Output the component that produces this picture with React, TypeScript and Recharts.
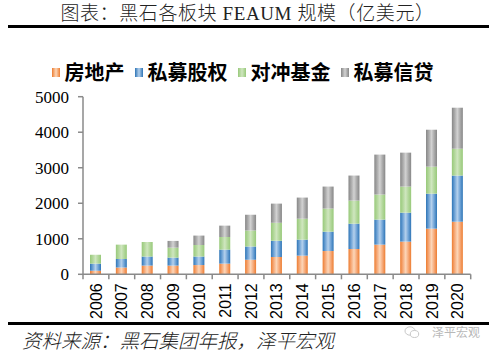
import { BarChart, Bar, XAxis, YAxis } from 'recharts';

const years = ['2006', '2007', '2008', '2009', '2010', '2011', '2012', '2013', '2014', '2015', '2016', '2017', '2018', '2019', '2020'];
const realEstate = [100, 190, 245, 245, 260, 300, 412, 487, 525, 655, 712, 835, 920, 1285, 1480];
const privateEquity = [200, 240, 255, 225, 240, 395, 368, 458, 450, 545, 713, 705, 815, 985, 1300];
const hedgeFunds = [250, 405, 410, 280, 325, 355, 450, 505, 590, 650, 650, 705, 735, 760, 755];
const privateCredit = [0, 0, 0, 190, 265, 320, 450, 540, 595, 620, 705, 1125, 955, 1040, 1155];
const yTicks = [0, 1000, 2000, 3000, 4000, 5000];

const SERIES = [
  { key: 're', name: '房地产', dark: '#ED7D31', mid: '#F6A978', light: '#FCD6B8' },
  { key: 'pe', name: '私募股权', dark: '#2E75B6', mid: '#6FA3D6', light: '#B4D0EC' },
  { key: 'hf', name: '对冲基金', dark: '#98C97A', mid: '#B2D79A', light: '#CFE6BF' },
  { key: 'pc', name: '私募信贷', dark: '#878787', mid: '#AAAAAA', light: '#D2D2D2' },
];

const data = years.map((year, i) => ({
  year,
  re: realEstate[i],
  pe: privateEquity[i],
  hf: hedgeFunds[i],
  pc: privateCredit[i],
}));

const AXIS = '#8A8A8A';
const BAND = 388 / years.length;

function YearTick({ x, y, payload, index }: any) {
  const last = index === years.length - 1;
  return (
    <g>
      <line x1={x - BAND / 2} x2={x - BAND / 2} y1={y} y2={y + 5} stroke={AXIS} strokeWidth={1.5} />
      {last && <line x1={x + BAND / 2} x2={x + BAND / 2} y1={y} y2={y + 5} stroke={AXIS} strokeWidth={1.5} />}
      <text
        x={x}
        y={y + 9}
        dy="0.35em"
        transform={`rotate(-90 ${x} ${y + 9})`}
        textAnchor="end"
        fontSize={16}
        fontFamily="'Liberation Sans', Arial, sans-serif"
        fill="#000"
      >
        {payload.value}
      </text>
    </g>
  );
}

function LegendRow() {
  return (
    <div style={{ display: 'flex', justifyContent: 'center', alignItems: 'center', fontFamily: "'Noto Sans CJK SC'", fontWeight: 700, fontSize: 20, color: '#000' }}>
      {SERIES.map((s) => (
        <div key={s.key} style={{ display: 'flex', alignItems: 'center', marginRight: 10 }}>
          <span
            style={{
              width: 8,
              height: 9,
              marginRight: 5,
              background: `linear-gradient(to right, ${s.dark}, ${s.light}, ${s.dark})`,
            }}
          />
          <span style={{ lineHeight: '24px' }}>{s.name}</span>
        </div>
      ))}
    </div>
  );
}

export default function App() {
  return (
    <div style={{ position: 'absolute', left: 0, top: 0, width: 495, height: 356, background: '#fff', overflow: 'hidden' }}>
      <svg width={0} height={0} style={{ position: 'absolute' }}>
        <defs>
          {SERIES.map((s) => (
            <linearGradient key={s.key} id={`grad-${s.key}`} x1="0" y1="0" x2="1" y2="0">
              <stop offset="0%" stopColor={s.dark} />
              <stop offset="25%" stopColor={s.mid} />
              <stop offset="50%" stopColor={s.light} />
              <stop offset="75%" stopColor={s.mid} />
              <stop offset="100%" stopColor={s.dark} />
            </linearGradient>
          ))}
        </defs>
      </svg>

      <div
        style={{
          position: 'absolute',
          top: 2,
          left: 0,
          width: 495,
          textAlign: 'center',
          fontSize: 19,
          lineHeight: '24px',
          letterSpacing: 0.6,
          color: '#222',
          fontFamily: "'Liberation Serif', 'Noto Sans CJK SC'",
          fontWeight: 300,
          whiteSpace: 'nowrap',
        }}
      >
        图表：黑石各板块 FEAUM 规模（亿美元）
      </div>
      <div style={{ position: 'absolute', top: 25, left: 8, width: 481, height: 3, background: '#000' }} />

      <div style={{ position: 'absolute', top: 60, left: 0, width: 495 }}>
        <LegendRow />
      </div>

      <div style={{ position: 'absolute', top: 0, left: 0 }}>
        <BarChart width={495} height={330} data={data} margin={{ top: 96.7, right: 24.3, left: 0, bottom: 5.7 }}>
          <XAxis
            dataKey="year"
            interval={0}
            height={50}
            tickSize={0}
            tickMargin={0}
            tickLine={false}
            axisLine={{ stroke: AXIS, strokeWidth: 1.5 }}
            tick={<YearTick />}
          />
          <YAxis
            width={83}
            domain={[0, 5000]}
            ticks={yTicks}
            interval={0}
            tickSize={5}
            tickMargin={9}
            axisLine={{ stroke: AXIS, strokeWidth: 1.5 }}
            tickLine={{ stroke: AXIS, strokeWidth: 1.5 }}
            tick={{ fill: '#000', fontSize: 17, fontFamily: "'Liberation Serif', serif" }}
          />
          {SERIES.map((s) => (
            <Bar
              key={s.key}
              dataKey={s.key}
              name={s.name}
              stackId="aum"
              barSize={11}
              fill={`url(#grad-${s.key})`}
              isAnimationActive={false}
            />
          ))}
        </BarChart>
      </div>

      <div style={{ position: 'absolute', top: 322, left: 8, width: 481, height: 3, background: '#000' }} />
      <div
        style={{
          position: 'absolute',
          top: 327,
          left: 22,
          fontSize: 19.5,
          lineHeight: '26px',
          fontStyle: 'italic',
          fontFamily: "'Noto Sans CJK SC'",
          fontWeight: 300,
          color: '#222',
          whiteSpace: 'nowrap',
        }}
      >
        资料来源：黑石集团年报，泽平宏观
      </div>
      <svg style={{ position: 'absolute', top: 324, left: 404 }} width={16} height={16}>
        <ellipse cx={6} cy={7} rx={5} ry={4.2} fill="none" stroke="#c8c8c8" strokeWidth={1} />
        <ellipse cx={10.5} cy={10} rx={4.2} ry={3.5} fill="#fff" stroke="#c8c8c8" strokeWidth={1} />
      </svg>
      <div
        style={{
          position: 'absolute',
          top: 324,
          left: 432,
          fontSize: 12,
          lineHeight: '16px',
          fontFamily: "'Noto Sans CJK SC'",
          color: '#b8b8b8',
          whiteSpace: 'nowrap',
        }}
      >
        泽平宏观
      </div>
    </div>
  );
}
